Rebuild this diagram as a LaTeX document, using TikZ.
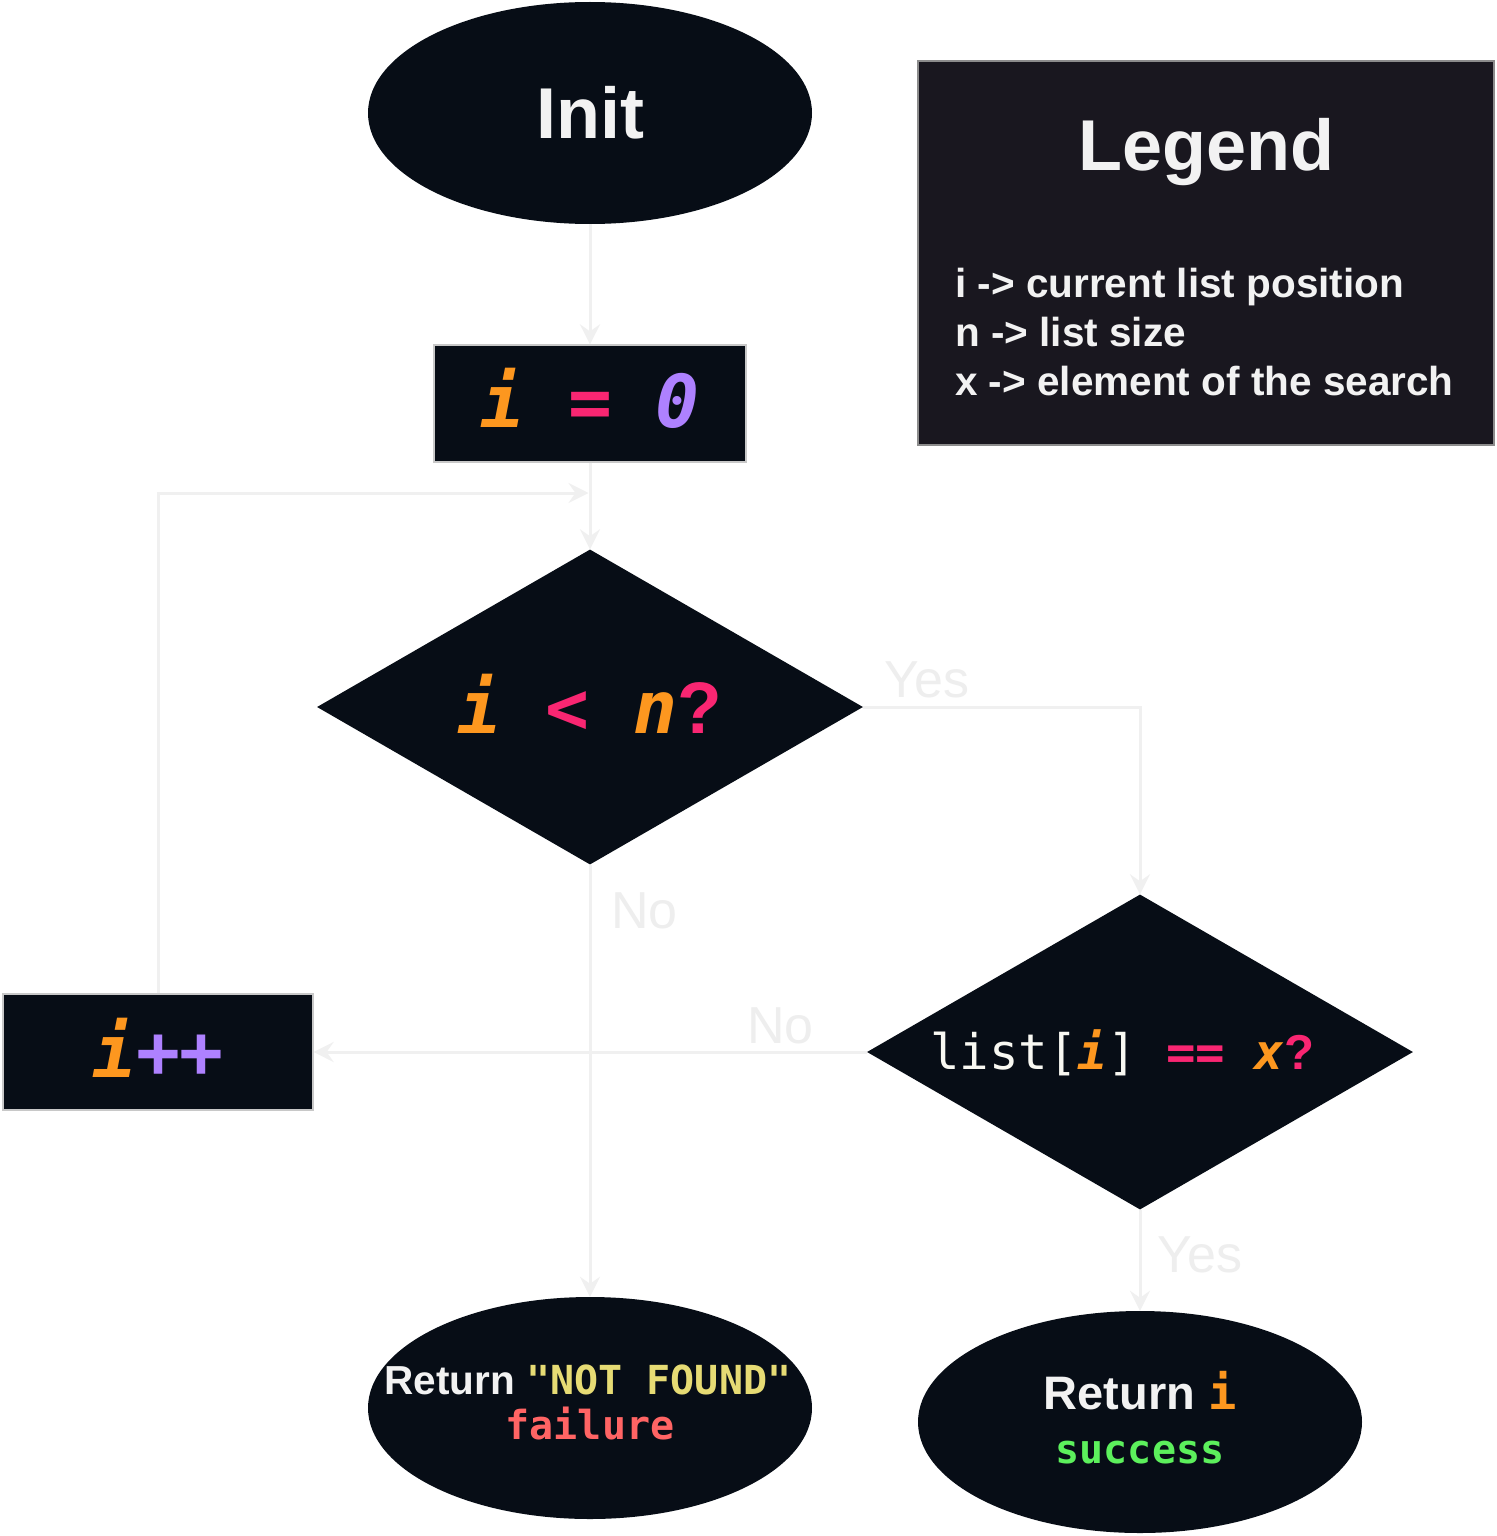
\documentclass[tikz,border=0pt]{standalone}
\usepackage{fontspec}
\setmainfont{Liberation Sans}
\newfontfamily\mono{DejaVu Sans Mono}[BoldFont={DejaVu Sans Mono Bold},ItalicFont={DejaVu Sans Mono Oblique},BoldItalicFont={DejaVu Sans Mono Bold Oblique}]
\usetikzlibrary{shapes.geometric,arrows.meta}
\definecolor{nodebg}{HTML}{070D16}
\definecolor{legendbg}{HTML}{19171F}
\definecolor{boxline}{HTML}{C8C8C8}
\definecolor{linecol}{HTML}{F0F0F0}
\definecolor{labelcol}{HTML}{EEEEEE}
\definecolor{cWhite}{HTML}{F2F2F2}
\definecolor{cCream}{HTML}{F8F8F2}
\definecolor{cOrange}{HTML}{FD971F}
\definecolor{cPink}{HTML}{F92672}
\definecolor{cPurple}{HTML}{AE81FF}
\definecolor{cYellow}{HTML}{E6DB74}
\definecolor{cRed}{HTML}{FF6464}
\definecolor{cGreen}{HTML}{5CF05C}
\newcommand{\cvar}[1]{{\mono\bfseries\itshape\color{cOrange}#1}}
\newcommand{\cop}[1]{{\mono\bfseries\color{cPink}#1}}
\newcommand{\cnum}[1]{{\mono\bfseries\itshape\color{cPurple}#1}}
\newcommand{\cq}{{\bfseries\color{cPink}?}}
\begin{document}
\begin{tikzpicture}[x=1pt,y=-1pt,
  term/.style={ellipse, fill=nodebg, minimum width=444pt, minimum height=222pt, inner sep=0pt},
  procbox/.style={rectangle, fill=nodebg, draw=boxline, line width=1.2pt, inner sep=0pt},
  decision/.style={diamond, fill=nodebg, minimum width=546pt, minimum height=315pt, inner sep=0pt},
  flow/.style={draw=linecol, line width=3pt, -{Stealth[length=20pt,width=20pt,inset=7pt]}},
  branch/.style={text=labelcol, font=\fontsize{52}{60}\selectfont, inner sep=0pt},
  txt/.style={inner sep=0pt},
  legline/.style={inner sep=0pt, anchor=base west, text=cWhite, font=\bfseries\fontsize{40.5}{46}\selectfont}
]
\useasboundingbox (0,0) rectangle (1496,1536);
\fill[white] (0,0) rectangle (1496,1536);

% nodes
\node[term, text=cWhite, font=\bfseries\fontsize{72}{80}\selectfont] (init) at (590,113) {Init};
\node[procbox, minimum width=312pt, minimum height=117pt] (izero) at (590,403.5) {};
\node[txt, font=\fontsize{73}{80}\selectfont] (izerot) at (590,398.5) {\cvar{i}\cop{\ =\ }\cnum{0}};
\node[decision] (d1) at (590,707) {};
\node[txt, font=\fontsize{73}{80}\selectfont] (d1t) at (590,704) {\cvar{i}\cop{\ <\ }\cvar{n}\cq};
\node[decision] (d2) at (1140,1052) {};
\node[txt, font=\fontsize{49}{56}\selectfont] (d2t) at (1122,1053) {{\mono\color{cCream}list[}\cvar{i}{\mono\color{cCream}]}\cop{\ ==\ }\cvar{x}\cq};
\node[procbox, minimum width=310pt, minimum height=116pt] (ipp) at (158,1052) {};
\node[txt, font=\fontsize{73}{80}\selectfont] (ippt) at (158,1047.5) {\cvar{i}{\mono\bfseries\color{cPurple}++}};
\node[term] (nf) at (590,1408) {};
\node[txt, anchor=base] (nft1) at (588,1394) {{\bfseries\color{cWhite}\fontsize{40.5}{46}\selectfont Return }{\mono\bfseries\color{cYellow}\fontsize{40}{44}\selectfont "NOT FOUND"}};
\node[txt, anchor=base] (nft2) at (590,1439) {\mono\bfseries\color{cRed}\fontsize{40}{44}\selectfont failure};
\node[term] (succ) at (1140,1422) {};
\node[txt, anchor=base] (suct1) at (1140,1409) {{\bfseries\color{cWhite}\fontsize{47}{52}\selectfont Return }{\mono\bfseries\color{cOrange}\fontsize{47}{52}\selectfont i}};
\node[txt, anchor=base] (suct2) at (1140,1463) {\mono\bfseries\color{cGreen}\fontsize{40}{44}\selectfont success};

% legend
\node[rectangle, fill=legendbg, draw=boxline!70!black, line width=1.2pt, minimum width=576pt, minimum height=384pt, inner sep=0pt] (legend) at (1206,253) {};
\node[txt, anchor=base, text=cWhite, font=\bfseries\fontsize{72}{80}\selectfont] (legt) at (1206,170) {Legend};
\node[legline] (leg1) at (955,297) {i -> current list position};
\node[legline] (leg2) at (955,346) {n -> list size};
\node[legline] (leg3) at (955,395) {x -> element of the search};

% connectors
\coordinate (join) at (590,493);
\draw[flow] (init.south) -- (izero.north);
\draw[flow] (izero.south) -- (d1.north);
\draw[flow, shorten >=1.5pt] (ipp.north) |- (join);
\draw[flow] (d1.east) -| (d2.north);
\draw[flow] (d1.south) -- (nf.north);
\draw[flow] (d2.west) -- (ipp.east);
\draw[flow] (d2.south) -- (succ.north);

% labels
\node[branch, anchor=base west] (yes1) at (884,697) {Yes};
\node[branch, anchor=base west] (no1) at (611,928) {No};
\node[branch, anchor=base west] (no2) at (747,1043) {No};
\node[branch, anchor=base west] (yes2) at (1157,1272) {Yes};
\end{tikzpicture}
\end{document}
